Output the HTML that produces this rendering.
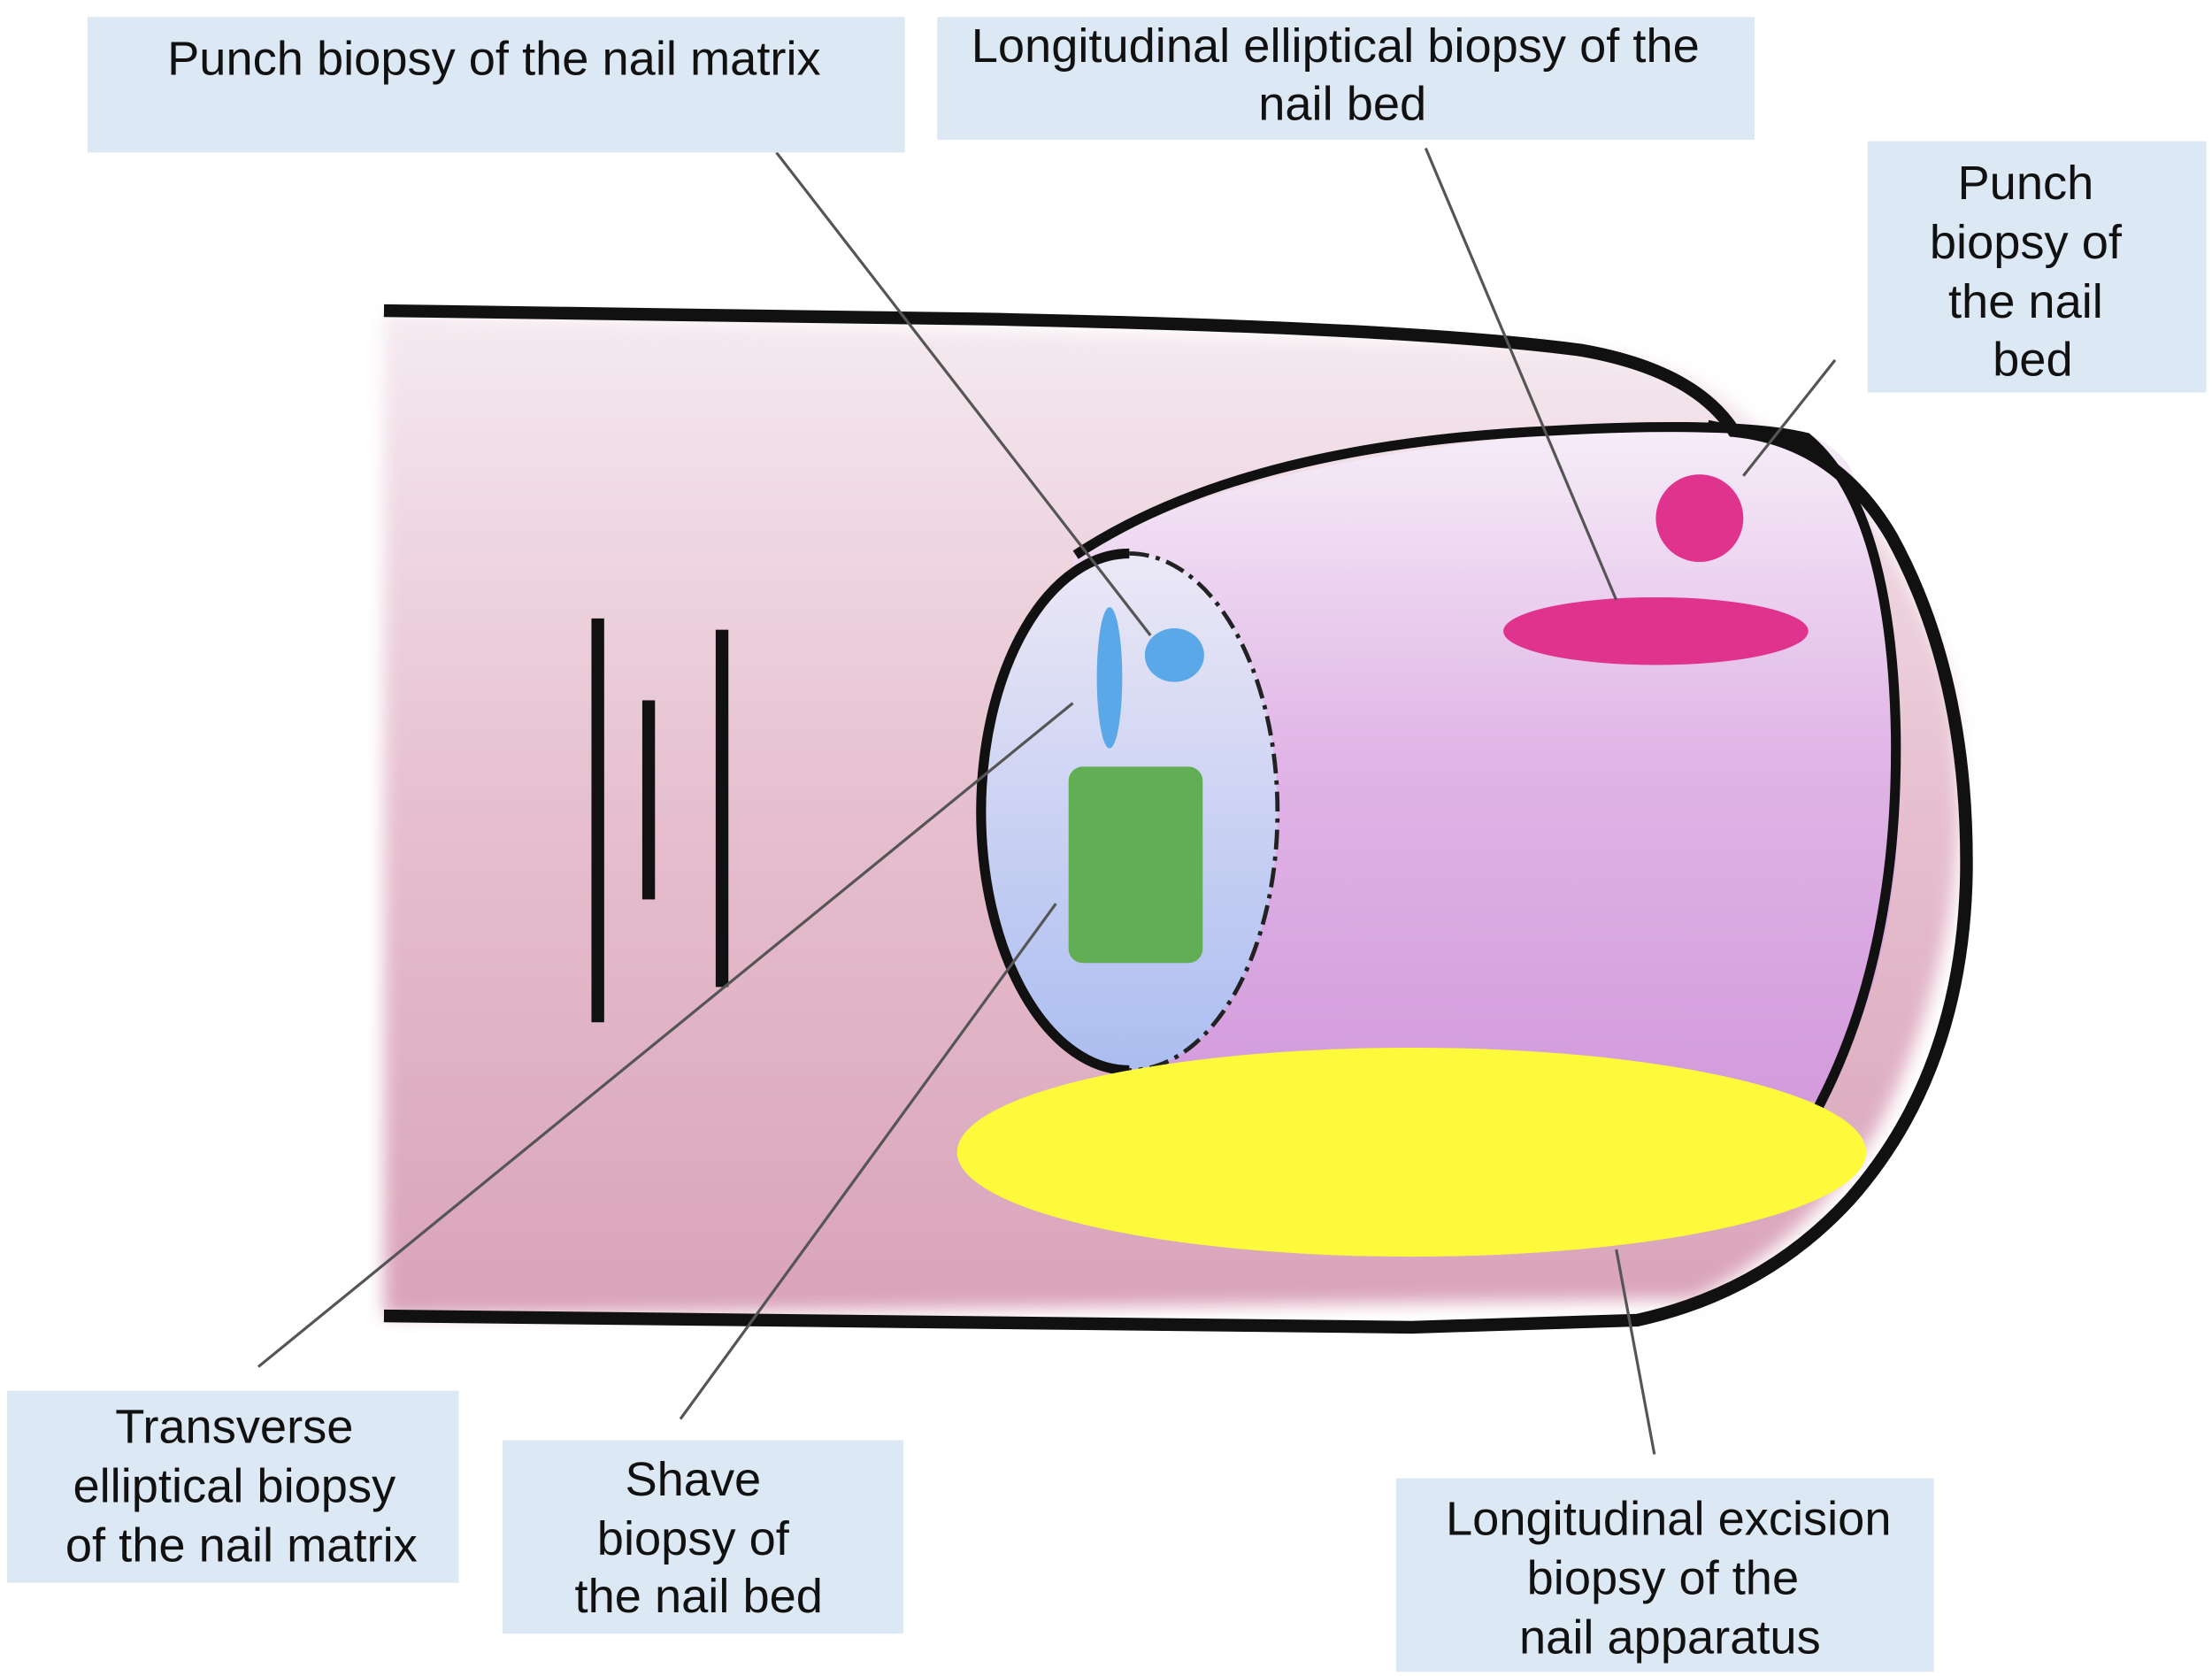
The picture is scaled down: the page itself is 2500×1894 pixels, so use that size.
<!DOCTYPE html>
<html><head><meta charset="utf-8"><style>
html,body{margin:0;padding:0;background:#fff;}
svg{display:block;}
text{font-family:"Liberation Sans",Arial,sans-serif;font-size:34px;fill:#111;text-anchor:middle;}
</style></head><body>
<svg width="2500" height="1894" viewBox="0 0 1567 1187" preserveAspectRatio="none" xmlns="http://www.w3.org/2000/svg">
<defs>
<linearGradient id="skin" x1="0" y1="0" x2="0" y2="1">
<stop offset="0" stop-color="#f5eaf0"/><stop offset="0.5" stop-color="#e6bfcf"/><stop offset="1" stop-color="#d9a3b9"/>
</linearGradient>
<linearGradient id="nail" x1="0" y1="0" x2="0" y2="1">
<stop offset="0" stop-color="#f6eef8"/><stop offset="0.5" stop-color="#e0b4e6"/><stop offset="1" stop-color="#d39bdc"/>
</linearGradient>
<linearGradient id="lun" x1="0" y1="0" x2="0" y2="1">
<stop offset="0" stop-color="#ece8f6"/><stop offset="1" stop-color="#abbdf0"/>
</linearGradient>
<filter id="blur"><feGaussianBlur stdDeviation="6"/></filter>
</defs>
<rect width="1567" height="1187" fill="#fff"/>
<path d="M272,222 L1100,245 Q1200,255 1240,300 Q1330,330 1380,480 Q1410,640 1330,800 Q1280,880 1200,920 L272,932 Z" fill="url(#skin)" filter="url(#blur)"/>
<path d="M760,395 Q900,310 1230,300 Q1290,300 1310,330 Q1350,420 1345,580 Q1340,700 1290,780 L800,760 Z" fill="url(#nail)"/>
<ellipse cx="800" cy="575" rx="105" ry="183" fill="url(#lun)"/>
<path d="M800,392 A105,183 0 0,0 800,758" fill="none" stroke="#111" stroke-width="7"/>
<path d="M800,392 A105,183 0 0,1 800,758" fill="none" stroke="#222" stroke-width="3" stroke-dasharray="14,5,3,5"/>
<path d="M762,393 Q880,315 1100,305 Q1230,298 1280,310 Q1340,360 1343,520 Q1345,680 1285,790" fill="none" stroke="#111" stroke-width="7"/>
<path d="M272,220 L700,226 Q1000,232 1120,248 Q1200,262 1228,305 Q1300,312 1340,380 Q1395,480 1393,620 Q1390,760 1310,850 Q1250,915 1160,935 L1000,940 L272,932" fill="none" stroke="#111" stroke-width="9"/>
<path d="M1210,300 Q1260,310 1287,318" fill="none" stroke="#111" stroke-width="5"/>
<rect x="419" y="438" width="9" height="286" fill="#111"/>
<rect x="455" y="496" width="9" height="141" fill="#111"/>
<rect x="507" y="446" width="9" height="253" fill="#111"/>
<ellipse cx="786" cy="480" rx="9" ry="50" fill="#5aa8e8"/>
<ellipse cx="832" cy="464" rx="21" ry="19" fill="#5aa8e8"/>
<rect x="757" y="543" width="95" height="139" rx="10" fill="#62ae55"/>
<circle cx="1204" cy="367" r="31" fill="#e0338e"/>
<ellipse cx="1173" cy="447" rx="108" ry="24" fill="#e0338e"/>
<ellipse cx="1000" cy="816" rx="322" ry="74" fill="#fdfa3b"/>
<g stroke="#555" stroke-width="2">
<line x1="550" y1="108" x2="815" y2="450"/>
<line x1="1010" y1="105" x2="1145" y2="425"/>
<line x1="1300" y1="255" x2="1235" y2="337"/>
<line x1="183" y1="968" x2="760" y2="498"/>
<line x1="482" y1="1005" x2="748" y2="640"/>
<line x1="1172" y1="1030" x2="1145" y2="885"/>
</g>
<g fill="#dde8f5">
<rect x="62" y="12" width="579" height="96"/>
<rect x="664" y="12" width="579" height="87"/>
<rect x="1323" y="100" width="240" height="178"/>
<rect x="5" y="985" width="320" height="136"/>
<rect x="356" y="1020" width="284" height="137"/>
<rect x="989" y="1047" width="381" height="137"/>
</g>
<text x="350" y="53">Punch biopsy of the nail matrix</text>
<text x="946" y="44">Longitudinal elliptical biopsy of the</text>
<text x="951" y="85">nail bed</text>
<text x="1435" y="141">Punch</text>
<text x="1435" y="183">biopsy of</text>
<text x="1435" y="225">the nail</text>
<text x="1440" y="266">bed</text>
<text x="166" y="1022">Transverse</text>
<text x="166" y="1064">elliptical biopsy</text>
<text x="171" y="1106">of the nail matrix</text>
<text x="491" y="1059">Shave</text>
<text x="491" y="1101">biopsy of</text>
<text x="495" y="1142">the nail bed</text>
<text x="1182" y="1087">Longitudinal excision</text>
<text x="1178" y="1129">biopsy of the</text>
<text x="1183" y="1171">nail apparatus</text>
</svg>
</body></html>
